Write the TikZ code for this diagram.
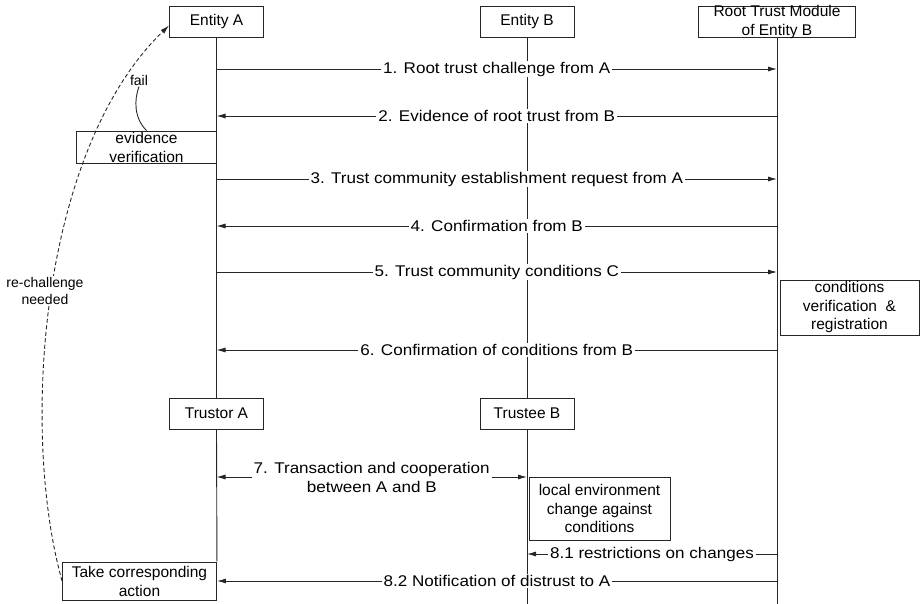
\documentclass[tikz,border=0pt]{standalone}
\usepackage{fontspec}
\setmainfont{Liberation Sans}
\newfontfamily\msgfont[FakeStretch=1.1]{Liberation Sans}
\usetikzlibrary{arrows.meta}

\begin{document}
\begin{tikzpicture}[x=1pt,y=-1pt,line width=0.9pt,
  ink/.style={draw=black!85},
  headbox/.style={draw=black!85,fill=white,inner sep=0pt,minimum width=94pt,minimum height=31pt,
    font=\fontsize{15.5}{18.5}\selectfont},
  frame/.style={draw=black!85,fill=white,inner sep=0pt},
  boxtext/.style={inner sep=0pt,align=center,font=\fontsize{15.5}{18.5}\selectfont},
  life/.style={draw=black!85},
  msg/.style={draw=black!85,-{Latex[length=9pt,width=5pt]}},
  both/.style={draw=black!85,{Latex[length=9pt,width=5pt]}-{Latex[length=9pt,width=5pt]}},
  msglabel/.style={fill=white,inner xsep=2pt,inner ysep=1pt,align=center,
    font=\msgfont\fontsize{15.5}{19}\selectfont},
  note/.style={fill=white,inner sep=1pt,align=center,font=\fontsize{14}{17}\selectfont},
  feedback/.style={draw=black!85,dash pattern=on 4pt off 2.5pt,-{Latex[length=9pt,width=5pt]}}
]
\useasboundingbox (0,0) rectangle (920,604);

% participants
\node[headbox] (entA) at (216.5,21.5) {Entity A};
\node[headbox] (entB) at (527,21.5) {Entity B};
\node[frame,minimum width=157pt,minimum height=31pt] (root) at (777,21.5) {};
\node[headbox] (trA) at (216.5,413.5) {Trustor A};
\node[headbox] (trB) at (527,413.5) {Trustee B};

\coordinate (botB) at (527,604);
\coordinate (botR) at (777,604);

% activity boxes
\node[frame,minimum width=140pt,minimum height=32pt] (ev) at (146.5,147) {};
\node[frame,minimum width=139pt,minimum height=55pt] (cond) at (849.5,307.5) {};
\node[frame,minimum width=141pt,minimum height=63pt] (local) at (599.5,508.5) {};
\node[frame,minimum width=154pt,minimum height=38pt] (take) at (139.5,581) {};

% lifelines
\draw[life] (entA.south) -- (trA.north);
\draw[life] (trA.south) -- (take.north east);
\draw[life] (entB.south) -- (trB.north);
\draw[life] (trB.south) -- (botB);
\draw[life] (root.south) -- (botR);

% redraw boxes over the lifelines
\node[frame,minimum width=140pt,minimum height=32pt] at (ev) {};
\node[frame,minimum width=139pt,minimum height=55pt] at (cond) {};
\node[frame,minimum width=141pt,minimum height=63pt] at (local) {};
\node[frame,minimum width=154pt,minimum height=38pt] at (take) {};

% box texts
\node[boxtext] (rootT) at (777,22) {Root Trust Module\\of Entity B};
\node[boxtext] (evT) at (146.5,147.5) {evidence\\verification};
\node[boxtext] (condT) at (849.5,307) {conditions\\verification\ \ \&\\registration};
\node[boxtext] (localT) at (599.5,508.5) {local environment\\change against\\conditions};
\node[boxtext] (takeT) at (139.5,581.5) {Take corresponding\\action};

% message end points on the lifelines
\coordinate (a1) at (216.5,69);  \coordinate (r1) at (777,69);
\coordinate (a2) at (216.5,116); \coordinate (r2) at (777,116);
\coordinate (a3) at (216.5,179); \coordinate (r3) at (777,179);
\coordinate (a4) at (216.5,226); \coordinate (r4) at (777,226);
\coordinate (a5) at (216.5,272); \coordinate (r5) at (777,272);
\coordinate (a6) at (216.5,350); \coordinate (r6) at (777,350);
\coordinate (a7) at (216.5,477); \coordinate (b7) at (527,477);
\coordinate (b81) at (527,554);  \coordinate (r81) at (777,554);
\coordinate (r82) at (777,581);

% messages
\draw[msg] (a1) -- node[msglabel] {1. Root trust challenge from A} (r1);
\draw[msg] (r2) -- node[msglabel] {2. Evidence of root trust from B} (a2);
\draw[msg] (a3) -- node[msglabel] {3. Trust community establishment request from A} (r3);
\draw[msg] (r4) -- node[msglabel] {4. Confirmation from B} (a4);
\draw[msg] (a5) -- node[msglabel] {5. Trust community conditions C} (r5);
\draw[msg] (r6) -- node[msglabel] {6. Confirmation of conditions from B} (a6);
\draw[both] (a7) -- node[msglabel] {7. Transaction and cooperation\\between A and B} (b7);
\draw[msg] (r81) -- node[msglabel] {8.1 restrictions on changes} (b81);
\draw[msg] (r82) -- node[msglabel] {8.2 Notification of distrust to A} (take.east);

% failure feedback
\draw[feedback] (take.west) .. controls (20,430) and (40,150) .. ([yshift=-4pt]entA.west);
\node[note] (rech) at (45,291) {re-challenge\\needed};
\node[note] (fail) at (139,80) {fail};
\draw[ink] (ev.north) .. controls (134,118) and (134,100) .. (fail.south);
\end{tikzpicture}
\end{document}
